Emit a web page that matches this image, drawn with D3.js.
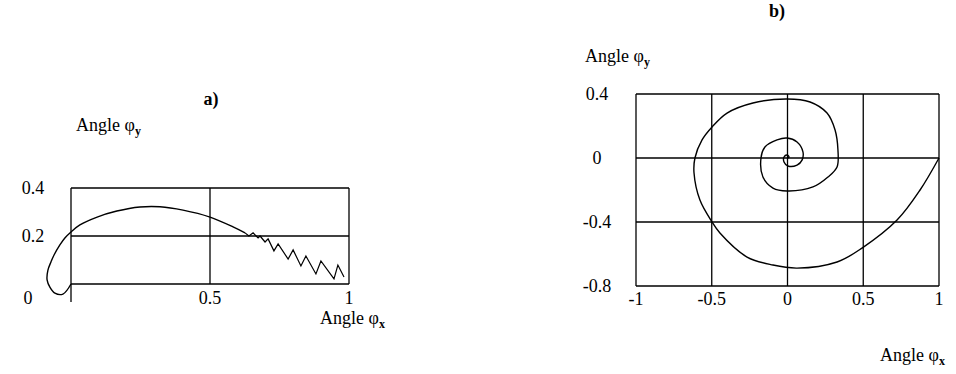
<!DOCTYPE html>
<html>
<head>
<meta charset="utf-8">
<script src="https://cdn.jsdelivr.net/npm/d3@7"></script>
<style>
  body { margin: 0; background: #fff; }
  svg text { font-family: "Liberation Serif", "DejaVu Serif", serif; fill: #000; }
</style>
</head>
<body>
<div id="chart"></div>
<script>
// Panel a) : smooth part of the trajectory, then the sawtooth tail
const curveASmooth = [
    [0, 0], [-0.029, -0.042], [-0.058, -0.038], [-0.076, -0.013], [-0.086, 0.017],
    [-0.083, 0.058], [-0.072, 0.092], [-0.061, 0.121], [-0.040, 0.163], [-0.022, 0.192],
    [0, 0.217], [0.032, 0.246], [0.094, 0.279], [0.165, 0.304], [0.248, 0.321],
    [0.320, 0.322], [0.403, 0.308], [0.5, 0.279], [0.583, 0.238], [0.626, 0.213]
];
const curveAZigzag = [
    [0.626, 0.213], [0.640, 0.2], [0.655, 0.213], [0.673, 0.192], [0.680, 0.2],
    [0.698, 0.175], [0.709, 0.188], [0.730, 0.138], [0.745, 0.167], [0.781, 0.104],
    [0.799, 0.142], [0.827, 0.075], [0.845, 0.117], [0.881, 0.042], [0.899, 0.096],
    [0.946, 0.021], [0.960, 0.079], [0.982, 0.029]
];
const gridAX = [0, 0.5, 1];
const gridAY = [0, 0.2, 0.4];
const ticksAX = ["0.5", "1"];
const ticksAY = ["0.2", "0.4"];

// Panel b) : spiral converging to the origin
const curveB = [
    [1, 0], [0.875, -0.2], [0.723, -0.388], [0.492, -0.563], [0.327, -0.65],
    [0.063, -0.688], [-0.096, -0.669], [-0.267, -0.619], [-0.446, -0.469], [-0.498, -0.4],
    [-0.578, -0.263], [-0.617, -0.094], [-0.611, 0], [-0.564, 0.113], [-0.498, 0.194],
    [-0.399, 0.281], [-0.228, 0.344], [-0.003, 0.369], [0.149, 0.35], [0.261, 0.281],
    [0.314, 0.175], [0.333, 0.05], [0.327, -0.056], [0.267, -0.119], [0.168, -0.181],
    [-0.003, -0.206], [-0.096, -0.188], [-0.162, -0.119], [-0.175, 0], [-0.149, 0.069],
    [-0.069, 0.113], [-0.003, 0.125], [0.063, 0.1], [0.102, 0.038], [0.096, -0.013],
    [0.063, -0.044], [0.003, -0.05], [-0.023, -0.025], [-0.023, 0.006], [-0.003, 0.019],
    [0.01, 0.006], [0, 0]
];
const gridBX = [-1, -0.5, 0, 0.5, 1];
const gridBY = [-0.8, -0.4, 0, 0.4];
const ticksBX = ["-1", "-0.5", "0", "0.5", "1"];
const ticksBY = ["-0.8", "-0.4", "0", "0.4"];

const width = 956;
const height = 374;
const fontSize = 18;

const svg = d3.select("#chart")
    .append("svg")
    .attr("width", width)
    .attr("height", height);

// Scales for both panels
const xA = d3.scaleLinear().domain([0, 1]).range([71, 349]);
const yA = d3.scaleLinear().domain([0, 0.4]).range([284, 188]);
const xB = d3.scaleLinear().domain([-1, 1]).range([636, 939]);
const yB = d3.scaleLinear().domain([-0.8, 0.4]).range([286, 94]);

function drawGrid(g, x, y, gx, gy) {
    g.selectAll("line.v")
        .data(gx)
        .enter()
        .append("line")
        .attr("x1", d => x(d)).attr("x2", d => x(d))
        .attr("y1", y.range()[0]).attr("y2", y.range()[1])
        .attr("stroke", "#000")
        .attr("stroke-width", 1.3);
    g.selectAll("line.h")
        .data(gy)
        .enter()
        .append("line")
        .attr("x1", x.range()[0]).attr("x2", x.range()[1])
        .attr("y1", d => y(d)).attr("y2", d => y(d))
        .attr("stroke", "#000")
        .attr("stroke-width", 1.3);
}

// Axis title with a subscripted phi
function angleLabel(g, x, y, sub) {
    const t = g.append("text")
        .attr("x", x)
        .attr("y", y)
        .attr("font-size", fontSize);
    t.append("tspan").text("Angle \u03c6");
    t.append("tspan")
        .attr("dy", 4)
        .attr("font-size", 12)
        .attr("font-weight", "bold")
        .text(sub);
}

const line = d3.line().curve(d3.curveCatmullRom.alpha(0.5));

// ---------- panel a ----------
const ga = svg.append("g");
drawGrid(ga, xA, yA, gridAX, gridAY);
// left grid line runs a bit below the frame
ga.append("line")
    .attr("x1", xA(0)).attr("x2", xA(0))
    .attr("y1", yA(0)).attr("y2", yA(-0.075))
    .attr("stroke", "#000")
    .attr("stroke-width", 1.3);

ga.append("path")
    .attr("d", line.x(d => xA(d[0])).y(d => yA(d[1]))(curveASmooth))
    .attr("fill", "none")
    .attr("stroke", "#000")
    .attr("stroke-width", 1.4);
ga.append("path")
    .attr("d", d3.line().x(d => xA(d[0])).y(d => yA(d[1]))(curveAZigzag))
    .attr("fill", "none")
    .attr("stroke", "#000")
    .attr("stroke-width", 1.2);

ga.selectAll("text.ty")
    .data(ticksAY)
    .enter()
    .append("text")
    .attr("x", 33)
    .attr("y", d => yA(+d) + 6)
    .attr("text-anchor", "middle")
    .attr("font-size", fontSize)
    .text(d => d);
ga.selectAll("text.tx")
    .data(ticksAX)
    .enter()
    .append("text")
    .attr("x", d => xA(+d))
    .attr("y", 304)
    .attr("text-anchor", "middle")
    .attr("font-size", fontSize)
    .text(d => d);
// origin label sits left of the frame
ga.append("text")
    .attr("x", 28)
    .attr("y", 304)
    .attr("text-anchor", "middle")
    .attr("font-size", fontSize)
    .text("0");

ga.append("text")
    .attr("x", 211)
    .attr("y", 105)
    .attr("text-anchor", "middle")
    .attr("font-size", fontSize)
    .attr("font-weight", "bold")
    .text("a)");
angleLabel(ga, 76, 131, "y");
angleLabel(ga, 320, 324, "x");

// ---------- panel b ----------
const gb = svg.append("g");
drawGrid(gb, xB, yB, gridBX, gridBY);

gb.append("path")
    .attr("d", line.x(d => xB(d[0])).y(d => yB(d[1]))(curveB))
    .attr("fill", "none")
    .attr("stroke", "#000")
    .attr("stroke-width", 1.4);

gb.selectAll("text.ty")
    .data(ticksBY)
    .enter()
    .append("text")
    .attr("x", 597)
    .attr("y", d => yB(+d) + 6)
    .attr("text-anchor", "middle")
    .attr("font-size", fontSize)
    .text(d => d);
gb.selectAll("text.tx")
    .data(ticksBX)
    .enter()
    .append("text")
    .attr("x", d => xB(+d))
    .attr("y", 305)
    .attr("text-anchor", "middle")
    .attr("font-size", fontSize)
    .text(d => d);

gb.append("text")
    .attr("x", 777)
    .attr("y", 17)
    .attr("text-anchor", "middle")
    .attr("font-size", fontSize)
    .attr("font-weight", "bold")
    .text("b)");
angleLabel(gb, 585, 62, "y");
angleLabel(gb, 880, 361, "x");
</script>
</body>
</html>
